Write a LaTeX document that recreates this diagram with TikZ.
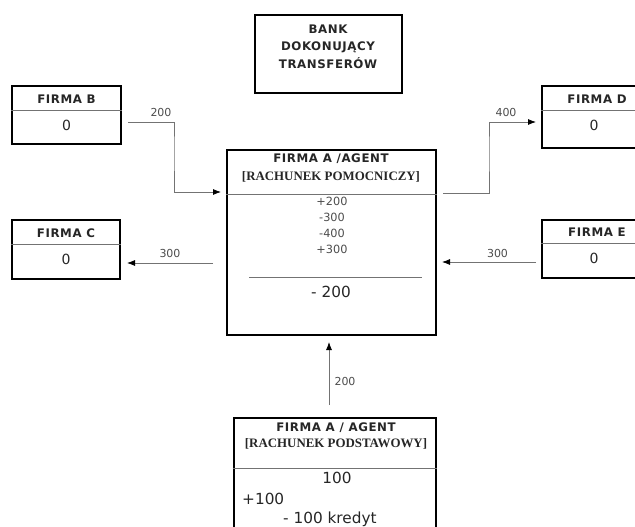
\documentclass[tikz,border=0pt]{standalone}
\usepackage{fontspec}
\setmainfont{DejaVu Sans}
\newfontfamily\headfont[LetterSpace=5]{DejaVu Sans}
\newfontfamily\acctfont{Liberation Serif}
\usetikzlibrary{arrows.meta}

\tikzset{
  box/.style={draw=black, line width=2.6pt, rectangle, inner sep=0pt},
  divider/.style={draw=black!55, line width=0.6pt},
  conn/.style={draw=black!55, line width=0.8pt,
    -{Latex[color=black, length=8pt, width=6pt]}},
  head/.style={font=\headfont\bfseries\fontsize{11.8}{13}\selectfont, text=black!85, inner sep=0pt},
  acct/.style={font=\acctfont\bfseries\fontsize{12.9}{14}\selectfont, text=black!85, inner sep=0pt},
  entry/.style={font=\fontsize{11.3}{13}\selectfont, text=black!70, inner sep=0pt},
  big/.style={font=\fontsize{15.3}{17}\selectfont, text=black!85, inner sep=0pt},
  zero/.style={font=\fontsize{14}{16}\selectfont, text=black!85, inner sep=0pt},
  lab/.style={font=\fontsize{11}{13}\selectfont, text=black!70, inner sep=0pt},
}

\begin{document}
\begin{tikzpicture}[x=1pt, y=-1pt]
\useasboundingbox (0,0) rectangle (635,527);
\clip (0,0) rectangle (635,527);

% bank
\node[box, minimum width=147pt, minimum height=78pt] (bank) at (328.5,54) {};
\node[head] (bank1) at (328,29) {BANK};
\node[head] (bank2) at (328,47) {DOKONUJĄCY};
\node[head] (bank3) at (328,63) {TRANSFERÓW};

% firma B
\node[box, minimum width=109pt, minimum height=58pt] (fb) at (66.5,115) {};
\draw[divider] (fb.west |- 0,110) -- (fb.east |- 0,110);
\node[head] (fbt) at (66.5,99) {FIRMA B};
\node[zero] (fbv) at (66.5,125) {0};

% firma C
\node[box, minimum width=108pt, minimum height=59pt] (fc) at (66,249.5) {};
\draw[divider] (fc.west |- 0,244) -- (fc.east |- 0,244);
\node[head] (fct) at (66,233) {FIRMA C};
\node[zero] (fcv) at (66,259) {0};

% firma D
\node[box, minimum width=109pt, minimum height=62pt] (fd) at (596.5,117) {};
\draw[divider] (fd.west |- 0,110) -- (fd.east |- 0,110);
\node[head] (fdt) at (597,99) {FIRMA D};
\node[zero] (fdv) at (594,125) {0};

% firma E
\node[box, minimum width=109pt, minimum height=58pt] (fe) at (596.5,249) {};
\draw[divider] (fe.west |- 0,243) -- (fe.east |- 0,243);
\node[head] (fet) at (597,232) {FIRMA E};
\node[zero] (fev) at (594,258) {0};

% firma A, auxiliary account
\node[box, minimum width=209pt, minimum height=185pt] (fa) at (331.5,242.5) {};
\draw[divider] (fa.west |- 0,194) -- (fa.east |- 0,194);
\node[head] (fat1) at (331,158.5) {FIRMA A /AGENT};
\node[acct] (fat2) at (331,177) {[RACHUNEK POMOCNICZY]};
\node[entry] (fa1) at (332,201) {+200};
\node[entry] (fa2) at (332,217) {-300};
\node[entry] (fa3) at (332,233) {-400};
\node[entry] (fa4) at (332,249) {+300};
\coordinate (sumL) at (249,277);
\coordinate (sumR) at (422,277);
\draw[divider] (sumL) -- (sumR);
\node[big] (fasum) at (331,292) {- 200};

% firma A, main account
\node[box, minimum width=202pt, minimum height=142pt] (fm) at (335,489) {};
\draw[divider] (fm.west |- 0,468) -- (fm.east |- 0,468);
\node[head] (fmt1) at (336,428) {FIRMA A / AGENT};
\node[acct] (fmt2) at (336,444) {[RACHUNEK PODSTAWOWY]};
\node[big] (fm1) at (337,478) {100};
\node[big, anchor=west] (fm2) at (242,499) {+100};
\node[big, anchor=west] (fm3) at (283,519) {- 100 kredyt};

% connector end points and bends
\coordinate (bOut) at (128,122);
\coordinate (bBend) at (174,150);
\coordinate (aInB) at (221,192);
\coordinate (aOutD) at (443,193);
\coordinate (dBend) at (489,150);
\coordinate (dIn) at (536,122);
\coordinate (aOutC) at (213,263);
\coordinate (cIn) at (127,263);
\coordinate (eOut) at (536,262);
\coordinate (aInE) at (442,262);
\coordinate (mOut) at (329,405);
\coordinate (aInM) at (329,342);

\draw[conn] (bOut) -| (bBend) |- (aInB);
\draw[conn] (aOutD) -| (dBend) |- (dIn);
\draw[conn] (aOutC) -- (cIn);
\draw[conn] (eOut) -- (aInE);
\draw[conn] (mOut) -- (aInM);

% amounts on connectors
\node[lab] (l1) at (161,112) {200};
\node[lab] (l2) at (506,112) {400};
\node[lab] (l3) at (170,253) {300};
\node[lab] (l4) at (497.5,253) {300};
\node[lab] (l5) at (345,381) {200};
\end{tikzpicture}
\end{document}
